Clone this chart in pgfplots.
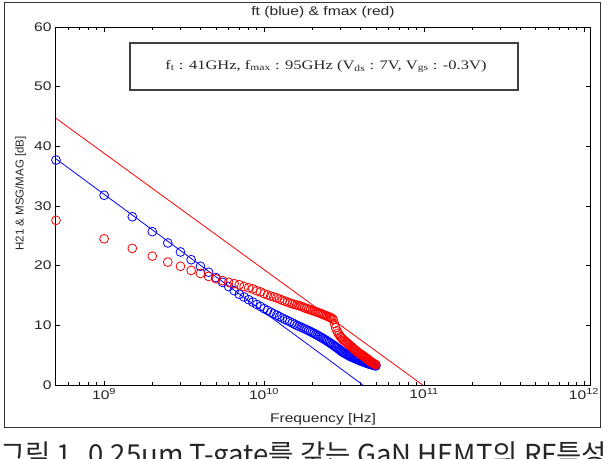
\documentclass[border=0pt]{standalone}
\usepackage{pgfplots}
\usepackage{pgfplotstable}
\pgfplotsset{compat=1.18}
\usepackage{fontspec}
\setmainfont{Liberation Sans}
\newfontfamily\boxfont{Liberation Serif}
\newfontfamily\krfont{Noto Sans CJK KR}

% Measured gains versus frequency (GHz): short-circuit current gain |H21|
\pgfplotstableread{
f g
0.5 37.7
1.0 31.8
1.5 28.2
2.0 25.7
2.5 23.8
3.0 22.3
3.5 21.0
4.0 19.9
4.5 18.9
5.0 18.0
5.5 17.2
6.0 16.5
6.5 15.8
7.0 15.2
7.5 14.75
8.0 14.3
8.5 13.9
9.0 13.5
9.5 13.15
10.0 12.8
10.5 12.5
11.0 12.2
11.5 11.95
12.0 11.7
12.5 11.45
13.0 11.2
13.5 11.0
14.0 10.8
14.5 10.6
15.0 10.4
15.5 10.2
16.0 10.0
16.5 9.85
17.0 9.7
17.5 9.55
18.0 9.4
18.5 9.25
19.0 9.1
19.5 8.95
20.0 8.8
20.5 8.65
21.0 8.5
21.5 8.35
22.0 8.2
22.5 8.05
23.0 7.9
23.5 7.75
24.0 7.6
24.5 7.45
25.0 7.3
25.5 7.15
26.0 7.0
26.5 6.85
27.0 6.7
27.5 6.55
28.0 6.4
28.5 6.25
29.0 6.1
29.5 5.95
30.0 5.8
30.5 5.65
31.0 5.5
31.5 5.4
32.0 5.3
32.5 5.2
33.0 5.1
33.5 5.0
34.0 4.9
34.5 4.8
35.0 4.7
35.5 4.65
36.0 4.6
36.5 4.5
37.0 4.45
37.5 4.4
38.0 4.3
38.5 4.25
39.0 4.2
39.5 4.1
40.0 4.05
40.5 4.0
41.0 3.95
41.5 3.9
42.0 3.85
42.5 3.8
43.0 3.75
43.5 3.7
44.0 3.65
44.5 3.6
45.0 3.55
45.5 3.5
46.0 3.5
46.5 3.45
47.0 3.4
47.5 3.4
48.0 3.35
48.5 3.3
49.0 3.3
49.5 3.25
50.0 3.2
}\hdata

% Maximum stable / maximum available gain (MSG/MAG)
\pgfplotstableread{
f g
0.5 27.6
1.0 24.5
1.5 22.9
2.0 21.6
2.5 20.6
3.0 19.9
3.5 19.2
4.0 18.7
4.5 18.2
5.0 17.8
5.5 17.5
6.0 17.2
6.5 17.0
7.0 16.8
7.5 16.5
8.0 16.3
8.5 16.1
9.0 15.8
9.5 15.6
10.0 15.3
10.5 15.1
11.0 14.9
11.5 14.75
12.0 14.6
12.5 14.4
13.0 14.2
13.5 14.05
14.0 13.9
14.5 13.75
15.0 13.6
15.5 13.5
16.0 13.4
16.5 13.3
17.0 13.2
17.5 13.05
18.0 12.9
18.5 12.8
19.0 12.7
19.5 12.6
20.0 12.5
20.5 12.4
21.0 12.3
21.5 12.2
22.0 12.1
22.5 12.0
23.0 11.9
23.5 11.8
24.0 11.7
24.5 11.6
25.0 11.5
25.5 11.4
26.0 11.3
26.5 11.2
27.0 11.0
27.5 10.3
28.0 9.6
28.5 9.1
29.0 8.7
29.5 8.4
30.0 8.1
30.5 7.9
31.0 7.7
31.5 7.5
32.0 7.35
32.5 7.2
33.0 7.05
33.5 6.9
34.0 6.75
34.5 6.6
35.0 6.45
35.5 6.3
36.0 6.15
36.5 6.0
37.0 5.9
37.5 5.75
38.0 5.6
38.5 5.5
39.0 5.4
39.5 5.3
40.0 5.2
40.5 5.1
41.0 5.0
41.5 4.9
42.0 4.8
42.5 4.7
43.0 4.6
43.5 4.5
44.0 4.4
44.5 4.3
45.0 4.2
45.5 4.1
46.0 4.0
46.5 3.9
47.0 3.8
47.5 3.7
48.0 3.65
48.5 3.6
49.0 3.5
49.5 3.45
50.0 3.4
}\mdata

\definecolor{mblue}{RGB}{0,0,255}
\definecolor{mred}{RGB}{255,0,0}

\begin{document}
\begin{tikzpicture}
\path[use as bounding box] (0pt,0pt) rectangle (607pt,-458pt);
\clip (0pt,0pt) rectangle (607pt,-458pt);
% figure frame
\draw[line width=1.8pt, black!80] (4.5pt,-2.5pt) rectangle (600.5pt,-427.5pt);
\begin{axis}[
  at={(56pt,-385pt)}, anchor=south west,
  width=534pt, height=358pt, scale only axis,
  xmode=log, xmin=0.5, xmax=1090,
  ymin=0, ymax=60,
  ytick={0,10,...,60},
  xtick={1,10,100,1000},
  xticklabels={10\textsuperscript{9},10\textsuperscript{10},10\textsuperscript{11},10\textsuperscript{12}},
  minor xtick={0.6,0.7,0.8,0.9,2,3,4,5,6,7,8,9,20,30,40,50,60,70,80,90,200,300,400,500,600,700,800,900},
  tick align=inside,
  major tick length=4.5pt, minor tick length=3pt,
  axis line style={line width=1pt},
  every tick/.style={black, line width=0.8pt},
  tick label style={font=\fontsize{12.5}{14}\selectfont, text=black!85, xscale=1.25},
  yticklabel style={/pgf/number format/assume math mode=true},
  xlabel={Frequency [Hz]},
  xlabel style={at={(axis description cs:0.5,-0.095)}, anchor=center,
                font=\fontsize{12.5}{14}\selectfont, text=black!85, xscale=1.25},
  ylabel={H21 \& MSG/MAG [dB]},
  ylabel style={at={(axis description cs:-0.066,0.535)}, anchor=center,
                font=\fontsize{11.5}{13}\selectfont, text=black!85},
  clip=true,
]
% -20 dB/dec extrapolations
\addplot[mblue, line width=0.8pt] coordinates {(0.5,37.9) (41.5,0)};
\addplot[mred, line width=0.8pt] coordinates {(0.5,44.7) (98,0)};
% measured data
\addplot[only marks, mark=o, mark size=4.4pt, mblue, mark options={line width=0.8pt}] table[x=f,y=g] {\hdata};
\addplot[only marks, mark=o, mark size=4.4pt, mred, mark options={line width=0.8pt}] table[x=f,y=g] {\mdata};
\end{axis}
% plot title
\node[inner sep=0pt, xscale=1.25, font=\fontsize{12.5}{14}\selectfont, text=black!85] at (323pt,-12.5pt)
  {ft (blue) \& fmax (red)};
% bias / figure-of-merit box
\node[draw=black!75, line width=1.3pt, minimum width=388pt, minimum height=47pt, inner sep=0pt] at (324pt,-66.5pt) {};
\node[inner sep=0pt, xscale=1.27, font=\boxfont\fontsize{13}{15}\selectfont, text=black!85] at (326pt,-66.5pt)
  {f\textsubscript{t} : 41GHz, f\textsubscript{max} : 95GHz (V\textsubscript{ds} : 7V, V\textsubscript{gs} : -0.3V)};
% caption
\node[anchor=base west, inner sep=0pt, font=\krfont\fontsize{27.5}{30}\selectfont, text=black!85] at (0pt,-464pt)
  {그림 1. 0.25um T-gate를 갖는 GaN HEMT의 RF특성};
\end{tikzpicture}
\end{document}
